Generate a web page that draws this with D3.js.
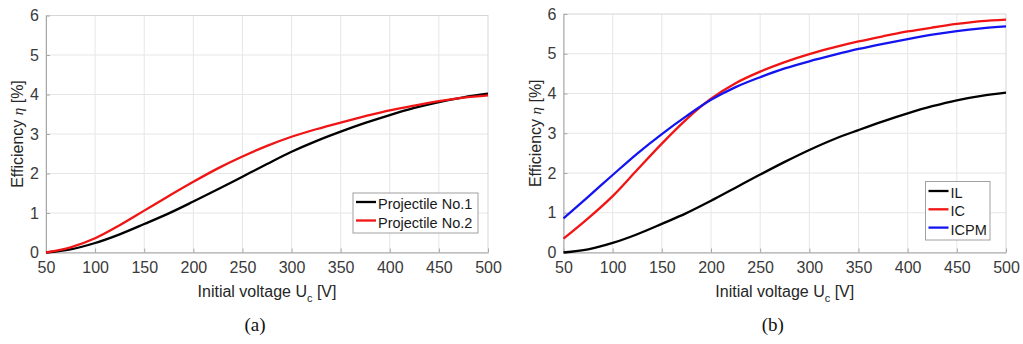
<!DOCTYPE html>
<html>
<head>
<meta charset="utf-8">
<script src="https://cdn.jsdelivr.net/npm/d3@7"></script>
<style>
  html, body { margin: 0; padding: 0; background: #fff; }
  svg { display: block; }
  text { font-family: "Liberation Sans", Arial, sans-serif; }
</style>
</head>
<body>
<svg id="fig" width="1023" height="344"></svg>
<script>
// Initial capacitor voltage (V)
const voltage = [50, 75, 100, 125, 150, 175, 200, 225, 250, 275, 300, 325, 350, 375, 400, 425, 450, 475, 500];

// Panel (a): efficiency (%) of the two projectiles
const projectile1 = [0, 0.08, 0.24, 0.46, 0.72, 0.99, 1.29, 1.6, 1.92, 2.24, 2.55, 2.82, 3.06, 3.28, 3.48, 3.66, 3.81, 3.93, 4.02];
const projectile2 = [0, 0.13, 0.36, 0.69, 1.06, 1.43, 1.79, 2.13, 2.43, 2.7, 2.93, 3.12, 3.29, 3.45, 3.6, 3.72, 3.83, 3.92, 3.98];

// Panel (b): efficiency (%) of the three configurations
const effIL   = [0, 0.08, 0.24, 0.46, 0.72, 0.99, 1.3, 1.63, 1.96, 2.28, 2.58, 2.85, 3.08, 3.3, 3.5, 3.68, 3.83, 3.94, 4.02];
const effIC   = [0.35, 0.86, 1.42, 2.08, 2.74, 3.35, 3.87, 4.26, 4.55, 4.79, 4.99, 5.16, 5.31, 5.44, 5.56, 5.66, 5.75, 5.82, 5.86];
const effICPM = [0.86, 1.4, 1.95, 2.49, 2.98, 3.43, 3.84, 4.16, 4.41, 4.63, 4.81, 4.97, 5.12, 5.25, 5.37, 5.48, 5.57, 5.64, 5.69];

const xTicks = [50, 100, 150, 200, 250, 300, 350, 400, 450, 500];
const yTicks = [0, 1, 2, 3, 4, 5, 6];

const svg = d3.select("#fig");

function panel(opts) {
  const { left, right, top, bottom, series, legend, caption } = opts;
  const g = svg.append("g");

  const x = d3.scaleLinear().domain([50, 500]).range([left, right]);
  const y = d3.scaleLinear().domain([0, 6]).range([bottom, top]);

  // grid
  g.append("g").selectAll("line").data(xTicks.slice(1, -1)).join("line")
    .attr("x1", d => x(d)).attr("x2", d => x(d))
    .attr("y1", top).attr("y2", bottom)
    .attr("stroke", "#e6e6e6").attr("stroke-width", 1);
  g.append("g").selectAll("line").data(yTicks.slice(1, -1)).join("line")
    .attr("x1", left).attr("x2", right)
    .attr("y1", d => y(d)).attr("y2", d => y(d))
    .attr("stroke", "#e6e6e6").attr("stroke-width", 1);

  // axes box
  g.append("rect")
    .attr("x", left).attr("y", top)
    .attr("width", right - left).attr("height", bottom - top)
    .attr("fill", "none").attr("stroke", "#d6d6d6").attr("stroke-width", 1);

  const xAxis = g.append("g").attr("transform", `translate(0,${bottom})`)
    .call(d3.axisBottom(x).tickValues(xTicks).tickFormat(d3.format("d"))
      .tickSizeInner(-4).tickSizeOuter(0).tickPadding(9));
  const yAxis = g.append("g").attr("transform", `translate(${left},0)`)
    .call(d3.axisLeft(y).tickValues(yTicks).tickFormat(d3.format("d"))
      .tickSizeInner(-4).tickSizeOuter(0).tickPadding(7));
  [xAxis, yAxis].forEach(a => {
    a.select(".domain").attr("stroke", "#a8a8a8");
    a.selectAll(".tick line").attr("stroke", "#a8a8a8");
    a.selectAll(".tick text").attr("fill", "#3a3a3a")
      .style("font-size", "16px").style("font-family", "'Liberation Sans', Arial, sans-serif");
  });

  // curves
  const line = d3.line().x(d => x(d[0])).y(d => y(d[1])).curve(d3.curveCatmullRom.alpha(0.5));
  series.forEach(s => {
    g.append("path")
      .datum(voltage.map((v, i) => [v, s.values[i]]))
      .attr("d", line)
      .attr("fill", "none")
      .attr("stroke", s.color)
      .attr("stroke-width", 2.3)
      .attr("stroke-linejoin", "round");
  });

  // axis titles
  const cx = (left + right) / 2;
  const xl = g.append("text")
    .attr("x", cx).attr("y", bottom + 44)
    .attr("text-anchor", "middle")
    .attr("fill", "#262626").style("font-size", "16px");
  xl.append("tspan").text("Initial voltage U");
  xl.append("tspan").attr("dy", 5).style("font-size", "11px").text("c");
  xl.append("tspan").attr("dy", -5).text(" [V]");

  const cy = (top + bottom) / 2;
  const yl = g.append("text")
    .attr("transform", `translate(${left - 23},${cy}) rotate(-90)`)
    .attr("text-anchor", "middle")
    .attr("fill", "#262626").style("font-size", "16px");
  yl.append("tspan").text("Efficiency ");
  yl.append("tspan").style("font-style", "italic")
    .style("font-family", "'Liberation Serif', 'Times New Roman', serif")
    .style("font-size", "15px").text("η");
  yl.append("tspan").text(" [%]");

  // legend
  const lg = g.append("g");
  lg.append("rect")
    .attr("x", legend.x).attr("y", legend.y)
    .attr("width", legend.w).attr("height", legend.h)
    .attr("fill", "#fff").attr("stroke", "#a0a0a0").attr("stroke-width", 1);
  series.forEach((s, i) => {
    const ry = legend.y + legend.first + i * legend.step;
    lg.append("line")
      .attr("x1", legend.x + 3).attr("x2", legend.x + 23)
      .attr("y1", ry - 2).attr("y2", ry - 2)
      .attr("stroke", s.color).attr("stroke-width", 2.3);
    lg.append("text")
      .attr("x", legend.x + 25).attr("y", ry)
      .attr("dy", "0.35em")
      .attr("fill", "#1a1a1a").style("font-size", "14.5px")
      .text(s.name);
  });

  // panel caption
  svg.append("text")
    .attr("x", cx - 12).attr("y", 331)
    .attr("text-anchor", "middle")
    .style("font-family", "'Liberation Serif', 'Times New Roman', serif")
    .style("font-size", "19px").attr("fill", "#111")
    .text(caption);
}

panel({
  left: 46, right: 488, top: 15.5, bottom: 252.5,
  series: [
    { name: "Projectile No.1", values: projectile1, color: "#000000" },
    { name: "Projectile No.2", values: projectile2, color: "#f01414" }
  ],
  legend: { x: 353, y: 193, w: 125, h: 40, first: 11, step: 18.5 },
  caption: "(a)"
});

panel({
  left: 563.5, right: 1006, top: 14, bottom: 252.5,
  series: [
    { name: "IL", values: effIL, color: "#000000" },
    { name: "IC", values: effIC, color: "#f01414" },
    { name: "ICPM", values: effICPM, color: "#1414f0" }
  ],
  legend: { x: 925.5, y: 181.5, w: 64.5, h: 58.5, first: 11.5, step: 18.3 },
  caption: "(b)"
});
</script>
</body>
</html>
